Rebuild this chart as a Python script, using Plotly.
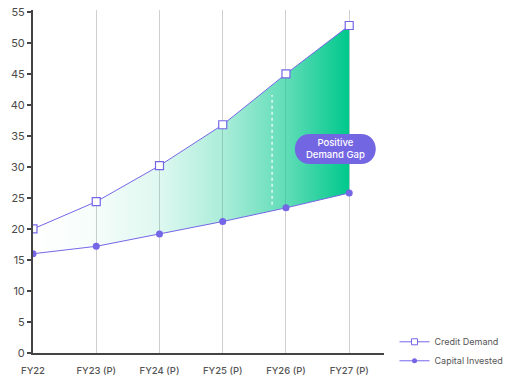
import plotly.graph_objects as go

categories = ["FY22", "FY23 (P)", "FY24 (P)", "FY25 (P)", "FY26 (P)", "FY27 (P)"]
credit_demand = [20, 24.4, 30.2, 36.8, 45, 52.8]
capital_invested = [16, 17.2, 19.2, 21.2, 23.4, 25.8]
y_ticks = [0, 5, 10, 15, 20, 25, 30, 35, 40, 45, 50, 55]

xs = list(range(len(categories)))
purple = "#7566E8"
circle_marker = dict(symbol="circle", size=7, color=purple)
square_marker = dict(symbol="square", size=8, color="white", line=dict(color=purple, width=1.2))

fig = go.Figure()
fig.add_trace(go.Scatter(
    x=xs, y=capital_invested, name="Capital Invested", mode="lines+markers",
    line=dict(color=purple, width=1), marker=circle_marker, showlegend=False,
))
fig.add_trace(go.Scatter(
    x=xs, y=credit_demand, name="Credit Demand", mode="lines+markers",
    line=dict(color=purple, width=1), marker=square_marker,
    fill="tonexty",
    fillgradient=dict(type="horizontal", colorscale=[
        [0, "rgba(0,200,140,0.0)"], [0.2, "rgba(0,200,140,0.04)"],
        [0.4, "rgba(0,200,140,0.13)"], [0.6, "rgba(0,200,140,0.33)"],
        [0.8, "rgba(0,200,140,0.62)"], [1, "rgba(0,200,140,1)"]]),
    showlegend=False,
))
# legend entries
fig.add_trace(go.Scatter(x=[None], y=[None], name="Credit Demand", mode="lines+markers",
                         line=dict(color=purple, width=1),
                         marker=dict(symbol="square", size=6, color="white", line=dict(color=purple, width=1))))
fig.add_trace(go.Scatter(x=[None], y=[None], name="Capital Invested", mode="lines+markers",
                         line=dict(color=purple, width=1),
                         marker=dict(symbol="circle", size=5, color=purple)))

# dotted white line inside gap
fig.add_shape(type="line", x0=3.78, x1=3.78, y0=23.9, y1=41.6,
              line=dict(color="white", width=1.2, dash="dot"), layer="above")

# pill annotation
cx, cy = 4.78, 32.9
hw, hh = 40.5, 15
r = hh
path = (f"M {-hw + r},{-hh} L {hw - r},{-hh} C {hw + r*0.33},{-hh} {hw + r*0.33},{hh} {hw - r},{hh} "
        f"L {-hw + r},{hh} C {-hw - r*0.33},{hh} {-hw - r*0.33},{-hh} {-hw + r},{-hh} Z")
fig.add_shape(type="path", xsizemode="pixel", ysizemode="pixel", xanchor=cx, yanchor=cy,
              path=path, fillcolor="#7366E3", line=dict(width=0), layer="above")
fig.add_annotation(x=cx, y=cy, text="Positive<br>Demand Gap", showarrow=False,
                   font=dict(color="white", size=9.5, family="Inter", weight=500))

fig.update_layout(
    width=508, height=379,
    margin=dict(l=33, r=124, t=10, b=26, autoexpand=False),
    paper_bgcolor="white", plot_bgcolor="white",
    font=dict(family="Inter", color="#444"),
    showlegend=True,
    legend=dict(x=1.03, y=-0.065, xanchor="left", yanchor="bottom", traceorder="normal",
                font=dict(size=9, color="#555"), bgcolor="rgba(0,0,0,0)",
                itemwidth=30, tracegroupgap=0),
)
fig.update_xaxes(
    tickmode="array", tickvals=xs, ticktext=categories, range=[0, 5.55],
    showgrid=True, gridcolor="#cfcfcf", gridwidth=1,
    showline=True, linecolor="#444", linewidth=2,
    ticks="", ticklabelstandoff=8,
    tickfont=dict(size=9.5, color="#555", weight=500), zeroline=False,
)
fig.update_yaxes(
    tickmode="array", tickvals=y_ticks, range=[0, 55.3],
    showgrid=False, showline=True, linecolor="#444", linewidth=2,
    ticks="outside", ticklen=4, tickcolor="#444", tickwidth=1.5,
    tickfont=dict(size=11, color="#4a4a4a"), zeroline=False,
)
fig.write_html("out.html")
